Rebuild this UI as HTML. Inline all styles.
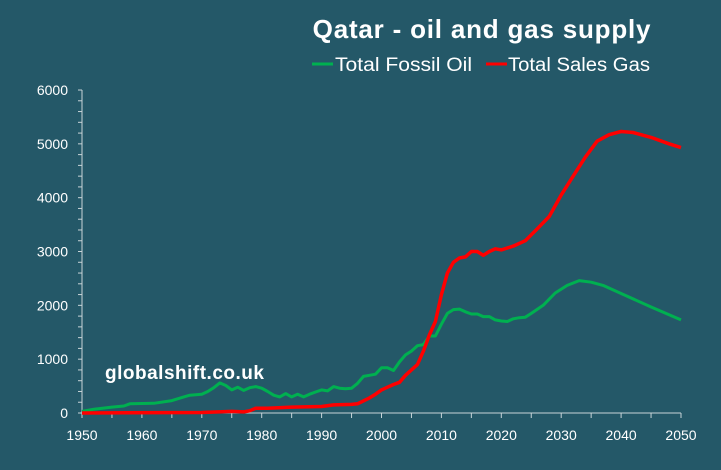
<!DOCTYPE html>
<html><head><meta charset="utf-8"><style>
html,body{margin:0;padding:0;background:#245868;}
svg{display:block;font-family:"Liberation Sans","DejaVu Sans",sans-serif;}
</style></head><body>
<svg id="c" width="721" height="470" viewBox="0 0 721 470" xmlns="http://www.w3.org/2000/svg">
<rect width="721" height="470" fill="#245868"/>
<text x="482" y="38" text-anchor="middle" font-size="26" font-weight="bold" fill="#fff" letter-spacing="0.8">Qatar - oil and gas supply</text>
<line x1="312" y1="64" x2="333" y2="64" stroke="#00b050" stroke-width="3"/>
<text x="335" y="71" font-size="19" fill="#fff" textLength="137" lengthAdjust="spacingAndGlyphs">Total Fossil Oil</text>
<line x1="486" y1="64" x2="507" y2="64" stroke="#ff0000" stroke-width="3"/>
<text x="508" y="71" font-size="19" fill="#fff" textLength="142" lengthAdjust="spacingAndGlyphs">Total Sales Gas</text>
<text x="105" y="379" font-size="19" font-weight="bold" fill="#fff" letter-spacing="0.5">globalshift.co.uk</text>
<g id="ax" stroke="#c8d4d8" stroke-width="1"></g>
<g id="lab" fill="#fff" font-size="14"></g>
<polyline id="oil" fill="none" stroke="#00b050" stroke-width="3" stroke-linejoin="round"/>
<polyline id="gas" fill="none" stroke="#ff0000" stroke-width="3.5" stroke-linejoin="round"/>
</svg>
<script>
var X=function(y){return 82+5.99*(y-1950)},Y=function(v){return 413-0.05383*v};
var ax=document.getElementById('ax'),lab=document.getElementById('lab'),ns='http://www.w3.org/2000/svg';
function el(p,t,a,txt){var e=document.createElementNS(ns,t);for(var k in a)e.setAttribute(k,a[k]);if(txt!=null)e.textContent=txt;p.appendChild(e);}
el(ax,'line',{x1:82,y1:90,x2:82,y2:413});
el(ax,'line',{x1:82,y1:413,x2:681,y2:413});
for(var v=0;v<=6000;v+=200){el(ax,'line',{x1:78,y1:Y(v),x2:82,y2:Y(v)});}
for(var v=0;v<=6000;v+=1000){el(lab,'text',{x:68,y:Y(v)+5,'text-anchor':'end'},String(v));}
for(var y=1950;y<=2050;y+=5){el(ax,'line',{x1:X(y),y1:413,x2:X(y),y2:418});}
for(var y=1950;y<=2050;y+=10){el(lab,'text',{x:X(y),y:440,'text-anchor':'middle'},String(y));}
var oil=[[1950,30],[1952,70],[1955,110],[1957,130],[1958,170],[1962,180],[1965,230],[1967,300],[1968,330],[1970,350],[1971,400],[1972,470],[1973,560],[1974,510],[1975,430],[1976,480],[1977,420],[1978,470],[1979,490],[1980,460],[1981,400],[1982,330],[1983,300],[1984,360],[1985,300],[1986,350],[1987,300],[1988,350],[1989,390],[1990,430],[1991,410],[1992,490],[1993,460],[1994,450],[1995,460],[1996,550],[1997,680],[1998,700],[1999,720],[2000,840],[2001,840],[2002,790],[2003,950],[2004,1080],[2005,1150],[2006,1250],[2007,1270],[2008,1430],[2009,1430],[2010,1650],[2011,1850],[2012,1920],[2013,1930],[2014,1880],[2015,1840],[2016,1840],[2017,1790],[2018,1790],[2019,1730],[2020,1710],[2021,1700],[2022,1750],[2023,1770],[2024,1780],[2025,1850],[2027,2000],[2029,2230],[2031,2370],[2033,2460],[2035,2430],[2037,2370],[2040,2220],[2045,1970],[2050,1730]];
var gas=[[1950,0],[1970,10],[1975,30],[1977,20],[1978,40],[1979,90],[1981,90],[1985,110],[1990,120],[1992,150],[1995,160],[1996,170],[1998,280],[1999,350],[2000,430],[2001,480],[2002,530],[2003,570],[2004,700],[2005,800],[2006,900],[2007,1150],[2008,1450],[2009,1700],[2010,2200],[2011,2600],[2012,2800],[2013,2880],[2014,2900],[2015,3000],[2016,3000],[2017,2930],[2018,3000],[2019,3050],[2020,3030],[2022,3100],[2024,3200],[2026,3420],[2028,3650],[2030,4050],[2032,4400],[2034,4750],[2036,5050],[2038,5170],[2040,5230],[2042,5210],[2045,5120],[2048,5000],[2050,4930]];
function pts(a){return a.map(function(p){return X(p[0]).toFixed(1)+','+Y(p[1]).toFixed(1)}).join(' ');}
document.getElementById('oil').setAttribute('points',pts(oil));
document.getElementById('gas').setAttribute('points',pts(gas));
</script>
</body></html>
